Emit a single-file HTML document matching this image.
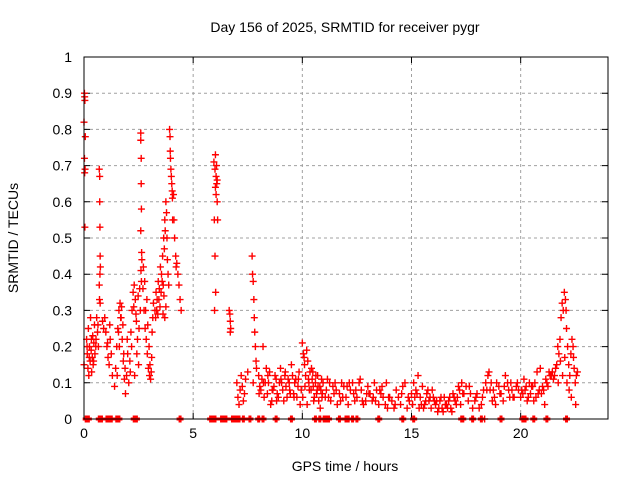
<!DOCTYPE html>
<html><head><meta charset="utf-8">
<style>
html,body{margin:0;padding:0;background:#fff;}
svg{display:block;font-family:"Liberation Sans",sans-serif;}
</style></head>
<body>
<svg id="chart" width="640" height="480">
<text x="345" y="32" text-anchor="middle" font-size="14">Day 156 of 2025, SRMTID for receiver pygr</text>
<text x="345" y="471" text-anchor="middle" font-size="14">GPS time / hours</text>
<text transform="translate(18,238) rotate(-90)" text-anchor="middle" font-size="14">SRMTID / TECUs</text>
<g id="grid"></g><g id="axes"></g><g id="marks"></g>
<rect x="84" y="57" width="524" height="362" fill="none" stroke="#000" stroke-width="1"/>
</svg>
<script>
const hours = [
0.02,0.03,0.04,0.0,0.02,0.05,0.03,0.04,0.0,0.06,
0.12,0.15,0.18,0.2,0.22,0.25,0.28,0.3,0.33,0.35,
0.38,0.4,0.42,0.45,0.48,0.5,0.55,0.58,0.62,0.66,
0.7,0.72,0.72,0.73,0.74,0.75,0.7,0.71,0.73,0.74,
0.85,0.9,0.95,1.0,1.05,1.1,1.15,1.2,1.25,1.3,
1.4,1.45,1.5,1.55,1.6,1.65,1.7,1.75,1.8,1.85,
1.9,1.95,2.0,1.72,1.78,1.62,1.52,1.82,1.88,1.98,
2.05,2.1,2.15,2.2,2.25,2.3,2.35,2.4,2.45,2.5,
2.12,2.18,2.28,2.38,2.48,2.55,2.58,2.52,2.42,2.32,
2.6,2.6,2.62,2.62,2.63,2.6,2.64,2.61,2.63,2.65,
2.7,2.75,2.8,2.85,2.9,2.95,3.0,3.05,3.1,3.15,
2.72,2.78,2.82,2.88,2.92,2.98,3.02,3.08,3.12,3.18,
3.25,3.3,3.35,3.4,3.45,3.5,3.55,3.6,3.65,3.7,
3.28,3.33,3.38,3.43,3.48,3.53,3.58,3.63,3.68,3.75,
3.72,3.78,3.8,3.82,3.85,3.75,3.88,3.7,3.66,3.62,
3.92,3.94,3.95,3.96,3.98,4.0,4.02,4.04,4.05,4.06,
4.1,4.15,4.2,4.25,4.3,4.35,4.4,4.45,4.12,4.22,
5.95,6.0,6.02,6.05,6.08,6.1,6.12,6.0,6.03,5.98,
6.05,6.07,6.02,5.97,6.1,
6.65,6.68,6.7,6.72,6.7,
7.0,7.05,7.1,7.15,7.2,7.25,7.3,7.35,7.4,7.5,
7.7,7.72,7.75,7.78,7.8,7.82,7.85,7.88,7.9,7.75,
8.0,8.1,8.2,8.3,8.4,8.5,8.6,8.7,8.8,8.9,
9.0,9.1,9.2,9.3,9.4,9.5,9.6,9.7,9.8,9.9,
8.05,8.15,8.25,8.35,8.45,8.55,8.65,8.75,8.85,8.95,
9.05,9.15,9.25,9.35,9.45,9.55,9.65,9.75,9.85,9.95,
10.0,10.05,10.1,10.15,10.2,10.25,10.3,10.35,10.4,10.45,
10.5,10.55,10.6,10.65,10.7,10.75,10.8,10.85,10.9,10.95,
10.02,10.12,10.22,10.32,10.42,10.52,10.62,10.72,10.82,10.92,
11.1,11.3,11.5,11.7,11.9,12.1,12.3,12.5,12.7,12.9,
11.2,11.4,11.6,11.8,12.0,12.2,12.4,12.6,12.8,13.0,
13.1,13.3,13.5,13.7,13.9,14.1,14.3,14.5,14.7,14.9,
13.2,13.4,13.6,13.8,14.0,14.2,14.4,14.6,14.8,15.0,
11.15,11.45,11.75,12.05,12.35,12.65,12.95,13.25,13.55,13.85,
15.1,15.2,15.3,15.4,15.5,15.6,15.7,15.8,15.9,16.0,
16.1,16.2,16.3,16.4,16.5,16.6,16.7,16.8,16.9,17.0,
17.1,17.2,17.3,17.4,17.5,15.15,15.45,15.75,16.05,16.35,
16.65,16.95,17.25,15.35,15.65,15.95,16.25,16.55,16.85,17.15,
17.6,17.8,18.0,18.2,18.4,18.6,18.8,19.0,19.2,19.4,
17.7,17.9,18.1,18.3,18.5,18.7,18.9,19.1,19.3,19.5,
18.35,18.55,18.75,19.55,19.7,19.9,20.1,20.3,20.5,20.7,
19.8,20.0,20.2,20.4,20.6,20.8,21.0,21.2,21.4,20.9,
19.6,20.15,20.45,20.75,21.05,21.3,21.5,21.6,21.1,20.55,
21.65,21.7,21.75,21.8,21.85,21.9,21.95,22.0,22.05,22.1,
22.15,22.2,22.25,22.3,22.35,22.4,22.45,22.5,22.55,22.6,
21.72,21.82,21.92,22.02,22.12,22.22,22.32,22.42,22.52,22.08,
8.02,8.22,8.42,8.62,8.82,9.02,9.22,9.42,9.62,9.82,
10.08,10.28,10.48,10.68,10.88,11.05,11.25,11.55,11.85,12.15,
12.45,12.75,13.05,13.35,13.65,13.95,14.25,14.55,14.85,15.05,
15.25,15.55,15.85,16.15,16.45,16.75,17.05,17.35,17.65,17.95,
18.25,18.45,18.65,18.85,19.05,19.25,19.45,19.65,19.85,20.05,
20.25,20.35,20.65,20.85,21.15,21.35,21.45,21.55,21.25,20.95,
0.14,0.24,0.34,0.44,0.54,0.64,1.08,1.18,1.58,1.68
];
const srmtid = [
0.90,0.89,0.88,0.82,0.72,0.69,0.68,0.53,0.15,0.78,
0.22,0.18,0.14,0.25,0.12,0.2,0.16,0.28,0.19,0.13,
0.17,0.23,0.15,0.21,0.26,0.18,0.22,0.28,0.24,0.2,
0.69,0.67,0.60,0.53,0.45,0.42,0.37,0.33,0.40,0.32,
0.27,0.25,0.28,0.24,0.2,0.17,0.15,0.22,0.18,0.12,
0.09,0.14,0.2,0.25,0.3,0.32,0.28,0.22,0.16,0.11,
0.07,0.12,0.18,0.31,0.26,0.2,0.12,0.18,0.14,0.22,
0.1,0.16,0.24,0.3,0.35,0.37,0.33,0.27,0.22,0.15,
0.13,0.2,0.31,0.29,0.34,0.36,0.3,0.25,0.18,0.12,
0.79,0.77,0.72,0.65,0.58,0.52,0.46,0.41,0.38,0.44,
0.36,0.3,0.25,0.22,0.18,0.14,0.12,0.11,0.17,0.28,
0.42,0.38,0.3,0.33,0.26,0.2,0.15,0.13,0.24,0.32,
0.3,0.35,0.33,0.38,0.36,0.42,0.4,0.45,0.5,0.55,
0.28,0.3,0.29,0.33,0.31,0.35,0.38,0.37,0.47,0.6,
0.52,0.57,0.5,0.44,0.4,0.31,0.37,0.28,0.34,0.29,
0.8,0.78,0.74,0.72,0.69,0.67,0.65,0.63,0.61,0.55,
0.62,0.5,0.45,0.43,0.4,0.37,0.33,0.3,0.55,0.42,
0.71,0.69,0.73,0.67,0.65,0.6,0.55,0.45,0.35,0.3,
0.62,0.7,0.64,0.55,0.66,
0.3,0.29,0.27,0.25,0.24,
0.1,0.06,0.04,0.08,0.12,0.09,0.05,0.07,0.11,0.13,
0.45,0.4,0.38,0.33,0.28,0.24,0.2,0.16,0.14,0.1,
0.12,0.08,0.2,0.1,0.07,0.13,0.05,0.09,0.11,0.06,
0.14,0.08,0.12,0.06,0.1,0.15,0.07,0.11,0.09,0.04,
0.09,0.11,0.06,0.14,0.1,0.04,0.08,0.12,0.07,0.1,
0.1,0.05,0.09,0.11,0.07,0.12,0.1,0.06,0.13,0.08,
0.21,0.18,0.15,0.12,0.19,0.16,0.1,0.13,0.08,0.11,
0.09,0.06,0.1,0.07,0.12,0.05,0.09,0.08,0.06,0.1,
0.06,0.09,0.04,0.08,0.14,0.05,0.12,0.09,0.03,0.07,
0.08,0.05,0.1,0.07,0.09,0.04,0.1,0.06,0.08,0.05,
0.06,0.09,0.04,0.1,0.06,0.08,0.05,0.1,0.04,0.09,
0.07,0.1,0.04,0.06,0.03,0.05,0.08,0.04,0.1,0.05,
0.05,0.08,0.07,0.04,0.06,0.03,0.06,0.09,0.03,0.07,
0.11,0.07,0.05,0.09,0.07,0.11,0.07,0.06,0.08,0.1,
0.1,0.08,0.12,0.06,0.09,0.04,0.07,0.05,0.03,0.06,
0.04,0.02,0.05,0.03,0.06,0.04,0.05,0.03,0.07,0.05,
0.06,0.08,0.1,0.07,0.09,0.06,0.04,0.08,0.05,0.06,
0.03,0.06,0.04,0.03,0.05,0.08,0.03,0.04,0.02,0.09,
0.05,0.03,0.07,0.04,0.1,0.08,0.06,0.09,0.05,0.1,
0.07,0.05,0.03,0.08,0.12,0.05,0.1,0.07,0.12,0.06,
0.0,0.13,0.08,0.1,0.06,0.08,0.07,0.05,0.09,0.06,
0.09,0.06,0.08,0.1,0.05,0.07,0.09,0.1,0.12,0.14,
0.08,0.11,0.07,0.13,0.08,0.13,0.11,0.14,0.04,0.09,
0.15,0.2,0.18,0.22,0.28,0.32,0.3,0.35,0.33,0.25,
0.2,0.15,0.12,0.18,0.22,0.2,0.14,0.1,0.12,0.13,
0.1,0.16,0.12,0.17,0.1,0.08,0.06,0.17,0.04,0.3,
0.07,0.1,0.12,0.08,0.05,0.11,0.13,0.08,0.06,0.11,
0.17,0.11,0.13,0.08,0.11,0.06,0.1,0.08,0.06,0.1,
0.08,0.05,0.07,0.05,0.09,0.06,0.04,0.07,0.06,0.04,
0.07,0.03,0.06,0.05,0.02,0.06,0.04,0.07,0.09,0.06,
0.06,0.08,0.1,0.04,0.07,0.09,0.08,0.06,0.1,0.08,
0.09,0.06,0.1,0.08,0.11,0.12,0.13,0.12,0.09,0.07,
0.2,0.17,0.22,0.16,0.2,0.26,0.21,0.26,0.24,0.28
];
const zeroHours = [0.1,0.15,0.2,0.7,0.75,0.8,1.05,1.1,1.15,1.25,1.5,1.55,1.6,2.3,2.35,2.4,4.4,5.8,5.85,5.9,6.0,6.3,6.35,6.4,6.5,6.8,6.85,6.9,7.0,7.1,7.3,7.6,8.0,8.2,8.8,9.5,10.6,10.8,11.0,11.05,11.1,11.2,11.7,12.0,12.1,12.3,12.5,13.5,14.6,15.1,17.3,17.35,17.8,18.2,19.1,20.1,20.2,20.6,21.2,22.1];
const zeroValues = zeroHours.map(() => 0);
const xTicks = [0,5,10,15,20];
const yTicks = [0,0.1,0.2,0.3,0.4,0.5,0.6,0.7,0.8,0.9,1];
const yTickLabels = ["0","0.1","0.2","0.3","0.4","0.5","0.6","0.7","0.8","0.9","1"];

const NS="http://www.w3.org/2000/svg";
const X0=84,X1=608,Y0=419,Y1=57;
function xs(h){return X0+(h/24)*(X1-X0);}
function ys(v){return Y0-v*(Y0-Y1);}
const grid=document.getElementById('grid'),axes=document.getElementById('axes'),marks=document.getElementById('marks');
function mk(tag,attrs,parent){const e=document.createElementNS(NS,tag);for(const k in attrs)e.setAttribute(k,attrs[k]);parent.appendChild(e);return e;}

yTicks.forEach((t,i)=>{
  const y=ys(t);
  if(t>0&&t<1){
    const g=mk('line',{x1:X0,x2:X1,y1:y,y2:y,stroke:'#a0a0a0','stroke-dasharray':'3,3','stroke-width':1},grid);
    
    
  }
  const tk=mk('path',{d:`M${X0} ${y}h6M${X1} ${y}h-6`,stroke:'#000'},axes);
  
  
  const lb=mk('text',{x:X0-12,y:y+5,'text-anchor':'end','font-size':14},axes);
  lb.textContent=yTickLabels[i];
  
  
});
xTicks.forEach(t=>{
  const x=xs(t);
  if(t>0){
    const g=mk('line',{x1:x,x2:x,y1:Y0,y2:Y1,stroke:'#a0a0a0','stroke-dasharray':'3,3','stroke-width':1},grid);
    
    
  }
  const tk=mk('path',{d:`M${x} ${Y0}v-6M${x} ${Y1}v6`,stroke:'#000'},axes);
  
  
  const lb=mk('text',{x:x,y:Y0+19,'text-anchor':'middle','font-size':14},axes);
  lb.textContent=String(t);
  
  
});
function plus(h,v,w){
  const x=xs(h),y=ys(v);
  const p=mk('path',{d:`M${x-3.5} ${y}h7M${x} ${y-3.5}v7`,stroke:'#ff0000','stroke-width':w,fill:'none'},marks);
  
  
}
hours.forEach((h,i)=>plus(h,srmtid[i],1.4));
zeroHours.forEach((h,i)=>plus(h,zeroValues[i],3));
</script>
</body></html>
